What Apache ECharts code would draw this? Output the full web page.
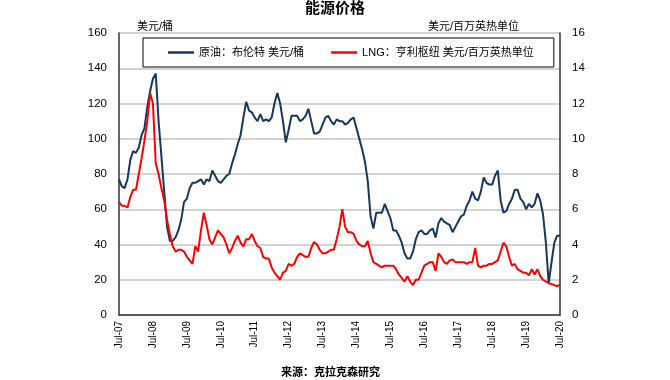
<!DOCTYPE html>
<html>
<head>
<meta charset="utf-8">
<script src="https://cdn.jsdelivr.net/npm/echarts@6/dist/echarts.min.js"></script>
<style>
html,body{margin:0;padding:0;background:#fff;}
#chart{width:670px;height:380px;}
</style>
</head>
<body>
<div id="chart"></div>
<script>
// Month names for the category axis (Jul-07 .. Jul-20)
const monthNames = ['Jan','Feb','Mar','Apr','May','Jun','Jul','Aug','Sep','Oct','Nov','Dec'];
const startYear = 2007, startMonth = 6; // Jul-07
const monthCount = 157;                 // Jul-07 .. Jul-20

// Brent crude, USD/bbl (left axis)
const brent2007 = [77,73,72,77,88,93];
const brent2008 = [92,95,102,106,118,127,134,137,110,90,70,50];
const brent2009 = [42,42,44,48,54,64,66,72,75,75,76,77];
const brent2010 = [74,77,76,82,79,76,75,77,79,80,86,91];
const brent2011 = [97,102,112,121,116,115,112,110,114,110,111,110];
const brent2012 = [112,120,126,120,110,98,105,113,113,113,110,111];
const brent2013 = [113,117,110,103,103,104,108,112,113,110,108,111];
const brent2014 = [110,110,108,109,111,112,106,100,94,87,76,56];
const brent2015 = [49,58,58,58,63,59,55,48,48,45,41,35];
const brent2016 = [32,32,36,43,47,48,46,46,48,49,44,52];
const brent2017 = [55,53,52,51,47,50,53,56,57,62,65,70];
const brent2018 = [66,65,70,78,75,74,74,79,82,65,58,59];
const brent2019 = [63,66,71,71,66,64,60,63,61,63,69,65];
const brent2020 = [57,41,18,30,41,45,45];

// LNG Henry Hub, USD/MMBtu (right axis)
const lng2007 = [6.4,6.2,6.2,6.1,6.7,7.1];
const lng2008 = [7.1,8.0,8.9,9.9,11.0,12.6,12.0,8.6,8.0,7.2,6.5,5.4];
const lng2009 = [4.6,3.9,3.6,3.7,3.7,3.6,3.3,3.1,2.9,3.9,3.6,4.8];
const lng2010 = [5.8,5.1,4.3,4.0,4.4,4.8,4.6,4.4,4.0,3.5,3.8,4.2];
const lng2011 = [4.5,4.1,3.9,4.3,4.3,4.6,4.2,3.9,3.8,3.3,3.2,3.2];
const lng2012 = [2.7,2.4,2.2,2.0,2.4,2.5,2.9,2.8,2.9,3.3,3.5,3.4];
const lng2013 = [3.3,3.3,3.8,4.15,4.0,3.7,3.5,3.5,3.6,3.7,3.7,4.3];
const lng2014 = [5.0,6.0,5.0,4.7,4.7,4.6,4.2,4.0,3.9,3.9,4.2,3.5];
const lng2015 = [3.0,2.9,2.8,2.7,2.8,2.8,2.8,2.8,2.6,2.3,2.1,1.9];
const lng2016 = [2.2,1.9,1.7,2.0,2.0,2.4,2.8,2.9,3.0,3.0,2.5,3.5];
const lng2017 = [3.3,3.0,2.9,3.1,3.15,3.0,3.0,3.0,3.0,2.9,3.0,3.0];
const lng2018 = [3.8,2.8,2.7,2.8,2.8,2.9,2.9,3.0,3.1,3.6,4.1,3.9];
const lng2019 = [3.3,2.8,2.9,2.6,2.5,2.4,2.4,2.25,2.6,2.3,2.6,2.2];
const lng2020 = [2.0,1.9,1.8,1.75,1.7,1.62,1.75];

const leftTicks = [0,20,40,60,80,100,120,140,160];
const rightTicks = [0,2,4,6,8,10,12,14,16];

const brent = [].concat(brent2007,brent2008,brent2009,brent2010,brent2011,brent2012,brent2013,brent2014,brent2015,brent2016,brent2017,brent2018,brent2019,brent2020);
const lng = [].concat(lng2007,lng2008,lng2009,lng2010,lng2011,lng2012,lng2013,lng2014,lng2015,lng2016,lng2017,lng2018,lng2019,lng2020);

const categories = [];
for (let i = 0; i < monthCount; i++) {
  const mi = startMonth + i;
  const y = startYear + Math.floor(mi / 12);
  categories.push(monthNames[mi % 12] + '-' + String(y % 100).padStart(2, '0'));
}

const FONT = "'Liberation Sans', 'Noto Sans CJK SC', sans-serif";
const chart = echarts.init(document.getElementById('chart'), null, {renderer: 'canvas'});
chart.setOption({
  animation: false,
  backgroundColor: '#fff',
  textStyle: {fontFamily: FONT},
  title: [
    {text: '能源价格', left: 'center', top: 1, padding: 0,
     textStyle: {fontSize: 15, fontWeight: 'bold', color: '#000', fontFamily: FONT}},
    {text: '来源：克拉克森研究', left: 281, top: 367, padding: 0,
     textStyle: {fontSize: 11, fontWeight: 'bold', color: '#000', fontFamily: FONT}}
  ],
  legend: {
    left: 143, top: 38,
    padding: [9, 20, 9, 25],
    itemGap: 27,
    itemWidth: 26, itemHeight: 2.5,
    icon: 'rect',
    backgroundColor: '#fff', borderColor: '#000', borderWidth: 1,
    textStyle: {fontSize: 11, color: '#000', fontFamily: FONT},
    data: ['原油：布伦特 美元/桶', 'LNG：亨利枢纽 美元/百万英热单位']
  },
  grid: {left: 119, right: 110, top: 33, bottom: 65, containLabel: false},
  xAxis: {
    type: 'category', data: categories, boundaryGap: false,
    axisLine: {lineStyle: {color: '#333', width: 1.5}},
    axisTick: {show: false},
    axisLabel: {rotate: 90, fontSize: 10, color: '#000', margin: 6,
      interval: function (i) { return i % 12 === 0; }},
    splitLine: {show: false}
  },
  yAxis: [
    {type: 'value', min: leftTicks[0], max: leftTicks[leftTicks.length-1], interval: 20,
     name: '美元/桶', nameLocation: 'end', nameGap: 6,
     nameTextStyle: {fontSize: 11, color: '#000', align: 'left', verticalAlign: 'middle', padding: [0,0,0,18]},
     axisLine: {show: true, lineStyle: {color: '#333', width: 1.5}},
     axisTick: {show: false},
     axisLabel: {fontSize: 11.5, color: '#000', margin: 12},
     splitLine: {show: true, lineStyle: {color: '#c4c4c4', width: 1.5}}},
    {type: 'value', min: rightTicks[0], max: rightTicks[rightTicks.length-1], interval: 2,
     name: '美元/百万英热单位', nameLocation: 'end', nameGap: 6,
     nameTextStyle: {fontSize: 11, color: '#000', align: 'right', verticalAlign: 'middle', padding: [0,41,0,0]},
     axisLine: {show: true, lineStyle: {color: '#333', width: 1.5}},
     axisTick: {show: false},
     axisLabel: {fontSize: 11.5, color: '#000', margin: 12},
     splitLine: {show: false}}
  ],
  series: [
    {name: '原油：布伦特 美元/桶', type: 'line', yAxisIndex: 0, data: brent,
     symbol: 'none', color: '#17375E', lineStyle: {color: '#17375E', width: 2}},
    {name: 'LNG：亨利枢纽 美元/百万英热单位', type: 'line', yAxisIndex: 1, data: lng,
     symbol: 'none', color: '#FF0000', lineStyle: {color: '#FF0000', width: 2}}
  ]
});
</script>
</body>
</html>
